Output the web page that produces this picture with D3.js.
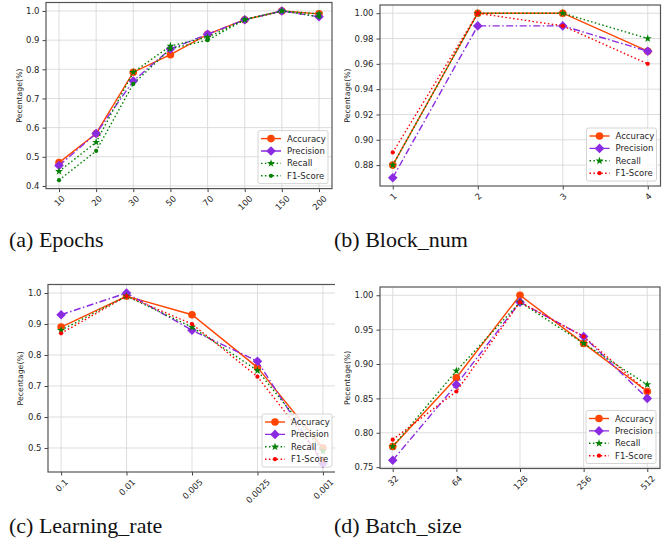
<!DOCTYPE html>
<html>
<head>
<meta charset="utf-8">
<script src="https://cdn.jsdelivr.net/npm/d3@7"></script>
<style>
  body { margin: 0; background: #fff; }
  svg { display: block; }
  .tick text { font-family: 'DejaVu Sans', sans-serif; fill: #262626; }
  text.caption { font-family: 'Liberation Serif'; }
</style>
</head>
<body>
<div id="chart"></div>
<script>
// (a) epochs
const epochLabels = ['10', '20', '30', '50', '70', '100', '150', '200'];
const epochAccuracy = [0.48, 0.58, 0.79, 0.85, 0.92, 0.97, 1.0, 0.99];
const epochPrecision = [0.47, 0.58, 0.76, 0.87, 0.92, 0.97, 1.0, 0.98];
const epochRecall = [0.45, 0.55, 0.79, 0.88, 0.91, 0.97, 1.0, 0.99];
const epochF1 = [0.42, 0.52, 0.75, 0.87, 0.9, 0.97, 1.0, 0.98];
const epochTicks = [0.4, 0.5, 0.6, 0.7, 0.8, 0.9, 1.0];

// (b) block_num
const blockLabels = ['1', '2', '3', '4'];
const blockAccuracy = [0.88, 1.0, 1.0, 0.97];
const blockPrecision = [0.87, 0.99, 0.99, 0.97];
const blockRecall = [0.88, 1.0, 1.0, 0.98];
const blockF1 = [0.89, 1.0, 0.99, 0.96];
const blockTicks = [0.88, 0.9, 0.92, 0.94, 0.96, 0.98, 1.0];

// (c) learning rate
const lrLabels = ['0.1', '0.01', '0.005', '0.0025', '0.001'];
const lrAccuracy = [0.89, 0.99, 0.93, 0.76, 0.5];
const lrPrecision = [0.93, 1.0, 0.88, 0.78, 0.45];
const lrRecall = [0.88, 0.99, 0.89, 0.75, 0.49];
const lrF1 = [0.87, 0.99, 0.9, 0.73, 0.46];
const lrTicks = [0.5, 0.6, 0.7, 0.8, 0.9, 1.0];

// (d) batch size
const batchLabels = ['32', '64', '128', '256', '512'];
const batchAccuracy = [0.78, 0.88, 1.0, 0.93, 0.86];
const batchPrecision = [0.76, 0.87, 0.99, 0.94, 0.85];
const batchRecall = [0.78, 0.89, 0.99, 0.93, 0.87];
const batchF1 = [0.79, 0.86, 0.99, 0.94, 0.86];
const batchTicks = [0.75, 0.8, 0.85, 0.9, 0.95, 1.0];

const seriesNames = ['Accuracy', 'Precision', 'Recall', 'F1-Score'];

const size = { width: 664, height: 544 };

const svg = d3.select('#chart').append('svg')
  .attr('width', size.width)
  .attr('height', size.height);

const defs = svg.append('defs');

const diamond = (r) => `M0,${-r}L${r},0L0,${r}L${-r},0Z`;

const styles = [
  { color: '#ff4500', dash: null, marker: 'circle', r: 3.8 },
  { color: '#8a2be2', dash: '7,2.5,1.5,2.5', marker: 'diamond', r: 4.8 },
  { color: '#008000', dash: '1.5,2.4', marker: 'star', r: 3 },
  { color: '#008000', dash: '1.5,2.4', marker: 'dot', r: 2.1 },
];

const drawMarker = (sel, st, color) => {
  if (st.marker === 'circle' || st.marker === 'dot') {
    sel.append('circle').attr('r', st.r).attr('fill', color);
  } else if (st.marker === 'diamond') {
    sel.append('path').attr('d', diamond(st.r)).attr('fill', color);
  } else {
    sel.append('path')
      .attr('d', d3.symbol(d3.symbolStar, st.r * st.r * 2.2)())
      .attr('fill', color);
  }
};

const panels = [
  {
    key: 'a', cats: epochLabels, ticks: epochTicks, fmt: d3.format('.1f'),
    values: [epochAccuracy, epochPrecision, epochRecall, epochF1], f1Color: '#008000',
    box: { left: 46, right: 332, top: 2.5, bottom: 188.6 }, ylabelX: 19,
    caption: '(a) Epochs', capX: 9, capY: 247,
  },
  {
    key: 'b', cats: blockLabels, ticks: blockTicks, fmt: d3.format('.2f'),
    values: [blockAccuracy, blockPrecision, blockRecall, blockF1], f1Color: '#ff0000',
    box: { left: 380, right: 660.5, top: 5, bottom: 186 }, ylabelX: 347,
    caption: '(b) Block_num', capX: 334, capY: 247,
  },
  {
    key: 'c', cats: lrLabels, ticks: lrTicks, fmt: d3.format('.1f'),
    values: [lrAccuracy, lrPrecision, lrRecall, lrF1], f1Color: '#ff0000',
    box: { left: 48, right: 336, top: 284.5, bottom: 472 }, ylabelX: 20,
    caption: '(c) Learning_rate', capX: 9, capY: 533, clip: 335,
  },
  {
    key: 'd', cats: batchLabels, ticks: batchTicks, fmt: d3.format('.2f'),
    values: [batchAccuracy, batchPrecision, batchRecall, batchF1], f1Color: '#ff0000',
    box: { left: 380, right: 660, top: 287, bottom: 468.5 }, ylabelX: 347,
    caption: '(d) Batch_size', capX: 334, capY: 533,
  },
];

panels.forEach((p) => {
  const b = p.box;
  const g = svg.append('g');
  if (p.clip) {
    defs.append('clipPath').attr('id', `clip-${p.key}`)
      .append('rect').attr('x', 0).attr('y', 0).attr('width', p.clip).attr('height', size.height);
    g.attr('clip-path', `url(#clip-${p.key})`);
  }

  const all = p.values.flat();
  const [mn, mx] = d3.extent(all);
  const pad = (mx - mn) * 0.05;

  const y = d3.scaleLinear().domain([mn - pad, mx + pad]).range([b.bottom, b.top]);
  const x = d3.scalePoint().domain(p.cats).range([b.left, b.right])
    .padding(0.05 * (p.cats.length - 1));

  // grid
  const grid = g.append('g').attr('stroke', '#d9d9d9').attr('stroke-width', 0.9);
  p.ticks.forEach((t) => {
    grid.append('line').attr('x1', b.left).attr('x2', b.right).attr('y1', y(t)).attr('y2', y(t));
  });
  p.cats.forEach((c) => {
    grid.append('line').attr('x1', x(c)).attr('x2', x(c)).attr('y1', b.top).attr('y2', b.bottom);
  });

  // y axis
  const yAxis = g.append('g')
    .attr('transform', `translate(${b.left},0)`)
    .call(d3.axisLeft(y).tickValues(p.ticks).tickFormat(p.fmt).tickSize(3.5).tickPadding(3));
  yAxis.select('.domain').remove();
  yAxis.selectAll('.tick line').attr('stroke', '#444');
  yAxis.selectAll('.tick text').attr('font-size', 8.5);

  // x axis
  const xAxis = g.append('g')
    .attr('transform', `translate(0,${b.bottom})`)
    .call(d3.axisBottom(x).tickSize(3.5));
  xAxis.select('.domain').remove();
  xAxis.selectAll('.tick line').attr('stroke', '#444');
  xAxis.selectAll('.tick text')
    .attr('font-size', 8.5)
    .attr('text-anchor', 'middle')
    .attr('dy', null)
    .attr('dominant-baseline', 'central')
    .each(function () {
      const w = this.getComputedTextLength();
      const h = (w + 7) / Math.SQRT2;
      d3.select(this).attr('y', null)
        .attr('transform', `translate(0,${6 + h / 2}) rotate(-45)`);
    });

  // y label
  g.append('text')
    .attr('transform', `translate(${p.ylabelX},${(b.top + b.bottom) / 2}) rotate(-90)`)
    .attr('text-anchor', 'middle')
    .attr('dominant-baseline', 'central')
    .style('font-family', "'DejaVu Sans', sans-serif")
    .attr('font-size', 7.8)
    .attr('fill', '#262626')
    .text('Pecentage(%)');

  // series
  const line = d3.line().x((d, i) => x(p.cats[i])).y((d) => y(d));
  p.values.forEach((vals, si) => {
    const st = styles[si];
    const color = si === 3 ? p.f1Color : st.color;
    g.append('path')
      .attr('d', line(vals))
      .attr('fill', 'none')
      .attr('stroke', color)
      .attr('stroke-width', 1.4)
      .attr('stroke-dasharray', st.dash);
    vals.forEach((v, i) => {
      const m = g.append('g').attr('transform', `translate(${x(p.cats[i])},${y(v)})`);
      drawMarker(m, st, color);
    });
  });

  // frame
  g.append('rect')
    .attr('x', b.left).attr('y', b.top)
    .attr('width', b.right - b.left).attr('height', b.bottom - b.top)
    .attr('fill', 'none').attr('stroke', '#555').attr('stroke-width', 1.2);

  // legend
  const lw = 70;
  const lh = 53;
  const lx = b.right - 4 - lw;
  const ly = b.bottom - 5 - lh;
  const leg = g.append('g').attr('transform', `translate(${lx},${ly})`);
  leg.append('rect')
    .attr('width', lw).attr('height', lh).attr('rx', 2)
    .attr('fill', '#fff').attr('fill-opacity', 0.8)
    .attr('stroke', '#d0d0d0').attr('stroke-width', 0.9);
  seriesNames.forEach((name, si) => {
    const st = styles[si];
    const color = si === 3 ? p.f1Color : st.color;
    const ry = 8 + si * 12.4;
    leg.append('line')
      .attr('x1', 3).attr('x2', 23).attr('y1', ry).attr('y2', ry)
      .attr('stroke', color).attr('stroke-width', 1.4)
      .attr('stroke-dasharray', st.dash);
    drawMarker(leg.append('g').attr('transform', `translate(13,${ry})`), st, color);
    leg.append('text')
      .attr('x', 29).attr('y', ry)
      .attr('dominant-baseline', 'central')
      .style('font-family', "'DejaVu Sans', sans-serif")
      .attr('font-size', 8.5)
      .attr('fill', '#262626')
      .text(name);
  });
});

// captions, drawn last
panels.forEach((p) => {
  svg.append('text')
    .attr('class', 'caption')
    .attr('x', p.capX).attr('y', p.capY)
    .style('font-family', "'Liberation Serif'")
    .style('font-size', '22px')
    .attr('fill', '#111')
    .text(p.caption);
});
</script>
</body>
</html>
